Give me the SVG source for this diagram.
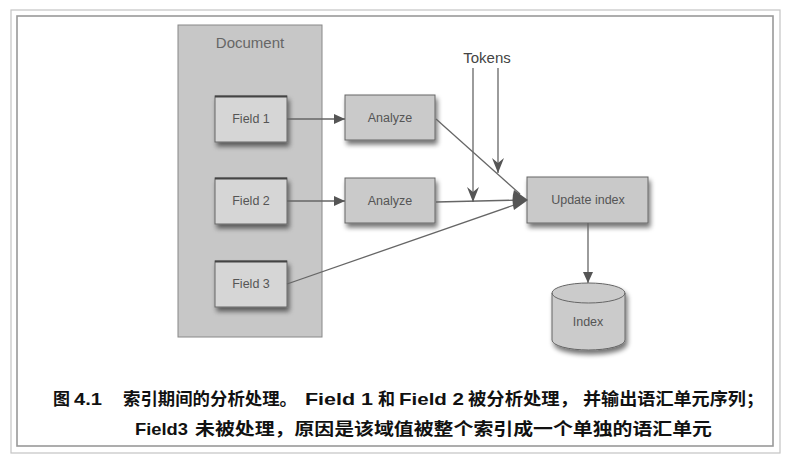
<svg xmlns="http://www.w3.org/2000/svg" width="788" height="459" viewBox="0 0 788 459">
<defs>
<filter id="sh" x="-20%" y="-20%" width="150%" height="160%">
<feGaussianBlur in="SourceAlpha" stdDeviation="2.5"/>
<feOffset dx="2" dy="4" result="b"/>
<feComponentTransfer><feFuncA type="linear" slope="0.55"/></feComponentTransfer>
<feMerge><feMergeNode/><feMergeNode in="SourceGraphic"/></feMerge>
</filter>
<marker id="tri" markerUnits="userSpaceOnUse" markerWidth="12" markerHeight="10" refX="11" refY="5" orient="auto">
<path d="M0,0 L11,5 L0,10 z" fill="#555"/>
</marker>
<marker id="chev" markerUnits="userSpaceOnUse" markerWidth="12" markerHeight="16" refX="6" refY="15" orient="0">
<path d="M0,0 L6,15 L12,0 L6,5 z" fill="#555"/>
</marker>
</defs>
<style>
.lbl{font-family:"Liberation Sans","Helvetica",Arial,sans-serif;font-size:12.5px;fill:#555;text-anchor:middle}
.box{stroke:#666;stroke-width:1}
.line{stroke:#666;stroke-width:1.3;fill:none}
.cap{font-family:"Liberation Sans","Noto Sans CJK SC",sans-serif;font-size:17px;font-weight:bold;fill:#111}
</style>
<rect x="0" y="0" width="788" height="459" fill="#fff"/>
<rect x="11" y="10" width="769" height="443" fill="none" stroke="#c4c4c4" stroke-width="1.2"/>
<rect x="17" y="16" width="756" height="430" fill="#fff" stroke="#999" stroke-width="1.6"/>

<g id="document">
<rect x="178" y="25" width="144" height="312" fill="#c7c7c7" stroke="#888" stroke-width="1"/>
<text class="lbl" x="250" y="48" style="font-size:15px;fill:#666">Document</text>
</g>
<g id="field1">
<rect class="box" x="215" y="96" width="72" height="46" fill="#d6d6d6" filter="url(#sh)"/>
<line x1="215" y1="96.5" x2="287" y2="96.5" stroke="#444" stroke-width="2"/>
<text class="lbl" x="251" y="123">Field 1</text>
</g>
<g id="field2">
<rect class="box" x="215" y="178" width="72" height="46" fill="#d6d6d6" filter="url(#sh)"/>
<line x1="215" y1="178.5" x2="287" y2="178.5" stroke="#444" stroke-width="2"/>
<text class="lbl" x="251" y="205">Field 2</text>
</g>
<g id="field3">
<rect class="box" x="215" y="261" width="72" height="46" fill="#d6d6d6" filter="url(#sh)"/>
<line x1="215" y1="261.5" x2="287" y2="261.5" stroke="#444" stroke-width="2"/>
<text class="lbl" x="251" y="288">Field 3</text>
</g>
<g id="analyze1">
<rect class="box" x="345" y="95" width="90" height="45" fill="#cacaca" filter="url(#sh)"/>
<text class="lbl" x="390" y="122">Analyze</text>
</g>
<g id="analyze2">
<rect class="box" x="345" y="178" width="90" height="45" fill="#cacaca" filter="url(#sh)"/>
<text class="lbl" x="390" y="205">Analyze</text>
</g>
<g id="tokens">
<text class="lbl" x="487" y="63" style="font-size:15px;fill:#444">Tokens</text>
</g>
<g id="update">
<rect class="box" x="527" y="177" width="121" height="46" fill="#c9c9c9" filter="url(#sh)"/>
<text class="lbl" x="588" y="204">Update index</text>
</g>
<g id="index">
<path d="M552,293 A36.5,10 0 0,1 625,293 L625,340 A36.5,10 0 0,1 552,340 Z" fill="#cbcbcb" stroke="#666" stroke-width="1" filter="url(#sh)"/>
<path d="M552,293 A36.5,10 0 0,0 625,293" fill="none" stroke="#666" stroke-width="1"/>
<text class="lbl" x="588" y="326">Index</text>
</g>

<g id="connectors">
<line class="line" x1="287" y1="119" x2="345" y2="119" marker-end="url(#tri)"/>
<line class="line" x1="287" y1="201" x2="345" y2="201" marker-end="url(#tri)"/>
<line class="line" x1="436" y1="119" x2="520" y2="194"/>
<line class="line" x1="436" y1="202" x2="520" y2="200"/>
<line class="line" x1="287" y1="284" x2="520" y2="203"/>
<line class="line" x1="473" y1="68" x2="473" y2="202" marker-end="url(#chev)"/>
<line class="line" x1="498" y1="68" x2="498" y2="173" marker-end="url(#chev)"/>
<path d="M528,200 L514,190 Q511,200 514,210 Z" fill="#555"/>
<line class="line" x1="588" y1="223" x2="588" y2="283" marker-end="url(#tri)"/>
</g>

<g id="caption">
<text class="cap" y="405"><tspan x="53">图</tspan><tspan x="74" textLength="28" lengthAdjust="spacingAndGlyphs">4.1</tspan><tspan x="123" textLength="174" lengthAdjust="spacingAndGlyphs">索引期间的分析处理。</tspan><tspan x="305" textLength="68" lengthAdjust="spacingAndGlyphs">Field 1</tspan><tspan x="378">和</tspan><tspan x="399" textLength="65" lengthAdjust="spacingAndGlyphs">Field 2</tspan><tspan x="468" textLength="110" lengthAdjust="spacingAndGlyphs">被分析处理，</tspan><tspan x="583" textLength="181" lengthAdjust="spacingAndGlyphs">并输出语汇单元序列；</tspan></text>
<text class="cap" y="435"><tspan x="135" textLength="53" lengthAdjust="spacingAndGlyphs">Field3</tspan><tspan x="195" textLength="517" lengthAdjust="spacingAndGlyphs">未被处理，原因是该域值被整个索引成一个单独的语汇单元</tspan></text>
</g>
</svg>
